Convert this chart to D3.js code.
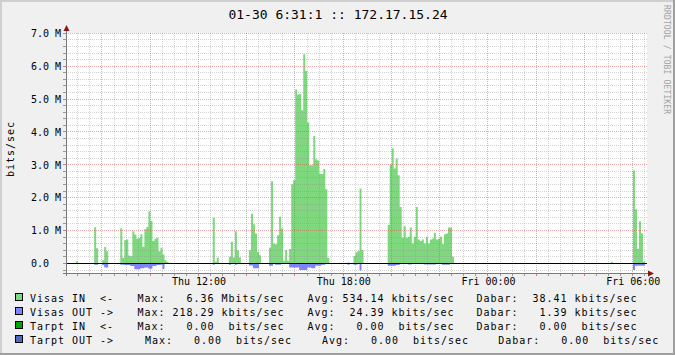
<!DOCTYPE html>
<html lang="en">
<head>
<meta charset="UTF-8">
<title>01-30 6:31:1 :: 172.17.15.24</title>
<script src="https://d3js.org/d3.v7.min.js"></script>
<style>
    body { margin: 0; background: #f0f0f0; }
    svg { display: block; }
    text { font-family: "DejaVu Sans Mono", monospace; fill: #000; }
    .pre { white-space: pre; }
</style>
</head>
<body>
<div id="chart"></div>
<script>
    // 5 minute samples in Mbit/s, first sample at 06:30:30
    const startTime = new Date(2014, 0, 30, 6, 30, 30);
    const endTime = new Date(2014, 0, 31, 6, 35, 30);
    const stepMinutes = 5;

    const visasIn = [
        0,0,0,0,0,0.07,0,0,0,0,
        0,0,0,0,1.10,0.46,0,0,0.10,0.50,
        0.37,0,0,0,0,0,0,1.07,0.17,0.71,
        0.73,0.24,0.22,0.98,0.88,0.75,0.77,0.89,0.51,1.04,
        1.11,1.59,1.29,0.68,0.75,0.78,0.37,0.48,0.27,0.10,
        0.04,0,0,0,0,0,0,0,0,0,
        0,0,0,0,0,0,0,0,0,0,
        0,0,0,1.39,0.05,0.18,0,0,0,0,
        0,0.20,0.66,0.18,0.98,0.40,0.19,0,0,0,
        0,0.40,1.51,1.19,0.91,0.35,0.25,0,0,0,
        0,0.48,2.50,0.61,0.58,0.86,1.42,1.06,0.08,0.41,
        0.08,0.44,2.41,2.53,5.29,5.14,5.15,4.66,6.36,5.85,
        4.29,2.99,2.99,3.88,3.17,3.13,2.72,2.72,2.87,2.26,
        0.17,0,0,0,0,0,0,0,0,0,
        0.03,0,0,0.23,0.34,0.38,2.28,0.41,0,0,
        0,0,0,0,0,0,0,0,0,0,
        1.17,3.01,3.50,2.89,3.19,2.68,1.72,0.78,1.13,0.78,
        0.81,1.09,0.61,0.81,1.72,0.73,0.68,0.73,0.61,0.81,
        0.61,0.73,0.76,0.93,0.73,0.75,0.81,0.59,0.89,0.91,
        1.09,1.09,0.20,0,0,0,0,0,0,0,
        0,0,0,0,0,0,0,0,0,0,
        0,0,0,0,0,0,0,0,0,0,
        0,0,0,0,0,0,0,0,0,0,
        0,0,0,0,0,0,0,0,0,0,
        0,0,0,0,0,0,0,0,0,0,
        0,0,0,0,0,0,0,0,0,0,
        0,0,0,0,0,0,0,0,0,0,
        0,0.05,0,0,0,0,0,0,0,0,
        0,0,2.83,1.65,0.45,1.28,0.92,0.05,0,0
    ];

    const visasOut = [
        0,0,0,0,0,0,0,0,0,0,
        0,0,0,0,0.04,0.04,0,0,0.05,0.12,
        0.12,0,0,0,0,0,0,0.04,0.04,0.05,
        0.05,0.05,0.08,0.08,0.18,0.18,0.18,0.15,0.15,0.12,
        0.12,0.16,0.16,0.08,0.08,0.05,0.05,0.04,0.17,0,
        0,0,0,0,0,0,0,0,0,0,
        0,0,0,0,0,0,0,0,0,0,
        0,0,0,0.04,0,0,0,0,0,0,
        0,0.04,0,0,0.04,0,0,0,0,0,
        0,0.06,0.06,0.15,0.15,0.15,0,0,0,0,
        0,0.07,0.07,0,0.04,0.04,0.04,0,0,0,
        0,0.12,0.12,0.12,0.12,0.12,0.20,0.20,0.20,0.20,
        0.12,0.12,0.15,0.15,0.07,0.07,0.07,0.04,0.04,0,
        0,0,0,0,0,0,0,0,0,0,
        0.04,0,0,0.04,0.04,0,0.218,0,0,0,
        0,0,0,0,0,0,0,0,0,0,
        0.07,0.07,0.07,0.07,0.05,0.05,0,0,0,0,
        0.03,0.03,0,0,0,0,0,0,0.03,0.03,
        0.03,0.03,0.03,0.03,0,0,0,0.04,0.04,0.04,
        0.04,0,0,0,0,0,0,0,0,0,
        0,0,0,0,0,0,0,0,0,0,
        0,0,0,0,0,0,0,0,0,0,
        0,0,0,0,0,0,0,0,0,0,
        0,0,0,0,0,0,0,0,0,0,
        0,0,0,0,0,0,0,0,0,0,
        0,0,0,0,0,0,0,0,0,0,
        0,0,0,0,0,0,0,0,0,0,
        0,0,0,0,0,0,0,0,0,0,
        0,0,0.20,0.07,0.07,0.07,0.07,0.07,0,0
    ];

    const yTickValues = [0, 1, 2, 3, 4, 5, 6, 7];
    const xLabelTimes = [
        new Date(2014, 0, 30, 12, 0),
        new Date(2014, 0, 30, 18, 0),
        new Date(2014, 0, 31, 0, 0),
        new Date(2014, 0, 31, 6, 0)
    ];

    // legend
    const legendNames = ["Visas IN  <-", "Visas OUT ->", "Tarpt IN  <-", "Tarpt OUT ->"];
    const maxValues = [6.36, 218.29, 0, 0];
    const maxUnits = ["M", "k", " ", " "];
    const avgValues = [534.14, 24.39, 0, 0];
    const avgUnits = ["k", "k", " ", " "];
    const curValues = [38.41, 1.39, 0, 0];
    const curUnits = ["k", "k", " ", " "];
    const legendColors = ["#7ed87e", "#8282ff", "#00a400", "#5069bd"];

    const W = 675, H = 355;
    const plot = {left: 66, right: 647, top: 33, bottom: 273};

    const svg = d3.select("#chart")
        .append("svg")
        .attr("width", W)
        .attr("height", H);

    // background and shaded frame
    svg.append("rect").attr("width", W).attr("height", H).attr("fill", "#f0f0f0");
    svg.append("path").attr("d", `M0,${H}V0H${W}`).attr("fill", "none")
        .attr("stroke", "#cfcfcf").attr("stroke-width", 4);
    svg.append("path").attr("d", `M0,${H}H${W}V0`).attr("fill", "none")
        .attr("stroke", "#9e9e9e").attr("stroke-width", 4);

    svg.append("rect")
        .attr("x", plot.left).attr("y", plot.top)
        .attr("width", plot.right - plot.left).attr("height", plot.bottom - plot.top)
        .attr("fill", "#fff");

    const x = d3.scaleTime()
        .domain([startTime, endTime])
        .range([plot.left, plot.right]);

    const y = d3.scaleLinear()
        .domain([-0.3, 7.0])
        .range([plot.bottom + 0.3, plot.top + 0.3]);

    const crisp = v => Math.round(v - 0.5) + 0.5;

    // data areas
    const toPoints = vals => {
        const pts = vals.map((v, i) => ({t: d3.timeMinute.offset(startTime, i * stepMinutes), v}));
        pts.push({t: d3.timeMinute.offset(startTime, vals.length * stepMinutes), v: vals[vals.length - 1]});
        return pts;
    };

    svg.append("clipPath").attr("id", "clip")
        .append("rect")
        .attr("x", plot.left).attr("y", plot.top)
        .attr("width", plot.right - plot.left).attr("height", plot.bottom - plot.top);

    const areaIn = d3.area()
        .x(d => x(d.t)).y0(y(0)).y1(d => y(d.v))
        .curve(d3.curveStepAfter);
    const areaOut = d3.area()
        .x(d => x(d.t)).y0(y(0)).y1(d => y(-d.v))
        .curve(d3.curveStepAfter);

    const dataG = svg.append("g").attr("clip-path", "url(#clip)");
    dataG.append("path").datum(toPoints(visasIn))
        .attr("d", areaIn).attr("fill", legendColors[0]);
    dataG.append("path").datum(toPoints(visasOut))
        .attr("d", areaOut).attr("fill", legendColors[1]);

    // grid
    const gridG = svg.append("g").attr("shape-rendering", "crispEdges");
    const minorY = d3.range(-1, 36).map(k => +(k * 0.2).toFixed(1)).filter(v => v % 1 !== 0);
    const minorX = d3.timeMinute.every(30).range(startTime, endTime).filter(t => t.getMinutes() !== 0 || t.getHours() % 2 !== 0);
    const majorX = d3.timeHour.every(2).range(startTime, endTime);

    const minorColor = "rgba(140,140,140,0.38)";
    const majorColor = "rgba(215,70,70,0.45)";

    gridG.selectAll(".hminor").data(minorY).enter().append("line")
        .attr("x1", plot.left).attr("x2", plot.right)
        .attr("y1", d => crisp(y(d))).attr("y2", d => crisp(y(d)))
        .attr("stroke", minorColor).attr("stroke-dasharray", "1,1");
    gridG.selectAll(".vminor").data(minorX).enter().append("line")
        .attr("x1", d => crisp(x(d))).attr("x2", d => crisp(x(d)))
        .attr("y1", plot.top).attr("y2", plot.bottom)
        .attr("stroke", minorColor).attr("stroke-dasharray", "1,1");
    gridG.selectAll(".hmajor").data(yTickValues).enter().append("line")
        .attr("x1", plot.left).attr("x2", plot.right)
        .attr("y1", d => crisp(y(d))).attr("y2", d => crisp(y(d)))
        .attr("stroke", majorColor).attr("stroke-dasharray", "1,1");
    gridG.selectAll(".vmajor").data(majorX).enter().append("line")
        .attr("x1", d => crisp(x(d))).attr("x2", d => crisp(x(d)))
        .attr("y1", plot.top).attr("y2", plot.bottom)
        .attr("stroke", majorColor).attr("stroke-dasharray", "1,1");

    // small ticks on the axes
    gridG.selectAll(".xt").data(minorX.concat(majorX)).enter().append("line")
        .attr("x1", d => crisp(x(d))).attr("x2", d => crisp(x(d)))
        .attr("y1", plot.bottom).attr("y2", plot.bottom + 3)
        .attr("stroke", d => d.getMinutes() === 0 && d.getHours() % 2 === 0 ? "#d08080" : "#9a9a9a");
    gridG.selectAll(".yt").data(minorY.concat(yTickValues)).enter().append("line")
        .attr("x1", plot.left - 3).attr("x2", plot.left)
        .attr("y1", d => crisp(y(d))).attr("y2", d => crisp(y(d)))
        .attr("stroke", d => d % 1 === 0 ? "#d08080" : "#9a9a9a");

    // zero line
    svg.append("line")
        .attr("x1", plot.left).attr("x2", plot.right)
        .attr("y1", crisp(y(0))).attr("y2", crisp(y(0)))
        .attr("stroke", "#000").attr("shape-rendering", "crispEdges");

    // axis lines and arrows
    svg.append("line")
        .attr("x1", plot.left - 3).attr("x2", plot.right + 2)
        .attr("y1", plot.bottom + 0.5).attr("y2", plot.bottom + 0.5)
        .attr("stroke", "#7a7a7a").attr("shape-rendering", "crispEdges");
    svg.append("line")
        .attr("x1", plot.left + 0.5).attr("x2", plot.left + 0.5)
        .attr("y1", plot.bottom + 3).attr("y2", plot.top - 3)
        .attr("stroke", "#7a7a7a").attr("shape-rendering", "crispEdges");
    svg.append("path")
        .attr("d", `M${plot.right + 1},${plot.bottom - 2.5}L${plot.right + 7},${plot.bottom + 0.5}L${plot.right + 1},${plot.bottom + 3.5}Z`)
        .attr("fill", "#8b1414");
    svg.append("path")
        .attr("d", `M${plot.left - 2.5},${plot.top - 2}L${plot.left + 0.5},${plot.top - 8}L${plot.left + 3.5},${plot.top - 2}Z`)
        .attr("fill", "#8b1414");

    // axis labels
    const yAxis = svg.append("g")
        .attr("transform", `translate(${plot.left - 5},0)`)
        .call(d3.axisLeft(y).tickValues(yTickValues).tickSize(0).tickPadding(0)
            .tickFormat(d => d === 0 ? "0.0  " : d.toFixed(1) + " M"));
    yAxis.select(".domain").remove();
    yAxis.selectAll("text")
        .attr("class", "pre")
        .style("font-family", "DejaVu Sans Mono, monospace")
        .style("font-size", "10px")
        .attr("fill", "#000");

    const xAxis = svg.append("g")
        .attr("transform", `translate(0,${plot.bottom})`)
        .call(d3.axisBottom(x).tickValues(xLabelTimes).tickSize(0).tickPadding(5)
            .tickFormat(d3.timeFormat("%a %H:%M")));
    xAxis.select(".domain").remove();
    xAxis.selectAll("text")
        .style("font-family", "DejaVu Sans Mono, monospace")
        .style("font-size", "10px")
        .attr("fill", "#000");

    // title, vertical label, watermark
    svg.append("text")
        .attr("x", 338).attr("y", 18.5)
        .attr("text-anchor", "middle")
        .style("font-size", "13px")
        .text("01-30 6:31:1 :: 172.17.15.24");

    svg.append("text")
        .attr("transform", "translate(14,149) rotate(-90)")
        .attr("text-anchor", "middle")
        .style("font-size", "10px")
        .style("letter-spacing", "0.98px")
        .text("bits/sec");

    svg.append("text")
        .attr("transform", "translate(664,5) rotate(90)")
        .style("font-size", "8px")
        .style("letter-spacing", "0.15px")
        .attr("fill", "#a0a0a0")
        .style("fill", "#a0a0a0")
        .text("RRDTOOL / TOBI OETIKER");

    // legend rows (last row is justified by rrdtool)
    const fmt = (v, u) => v.toFixed(2).padStart(6) + " " + u + "bits/sec";
    const cols = [
        [137.5, 307.5, 476.5],
        [137.5, 307.5, 476.5],
        [137.5, 307.5, 476.5],
        [145, 322, 498.3]
    ];

    legendNames.forEach((name, i) => {
        const base = 302.3 + i * 14;
        const row = svg.append("g")
            .style("font-size", "10px")
            .style("letter-spacing", "0.98px");
        row.append("rect")
            .attr("x", 15.5).attr("y", base - 8.5)
            .attr("width", 7).attr("height", 7)
            .attr("fill", legendColors[i])
            .attr("stroke", "#000")
            .attr("shape-rendering", "crispEdges");
        const seg = (xp, s) => row.append("text").attr("class", "pre")
            .attr("x", xp).attr("y", base).text(s);
        seg(30, name);
        seg(cols[i][0], "Max: " + fmt(maxValues[i], maxUnits[i]));
        seg(cols[i][1], "Avg: " + fmt(avgValues[i], avgUnits[i]));
        seg(cols[i][2], "Dabar: " + fmt(curValues[i], curUnits[i]));
    });
</script>
</body>
</html>
